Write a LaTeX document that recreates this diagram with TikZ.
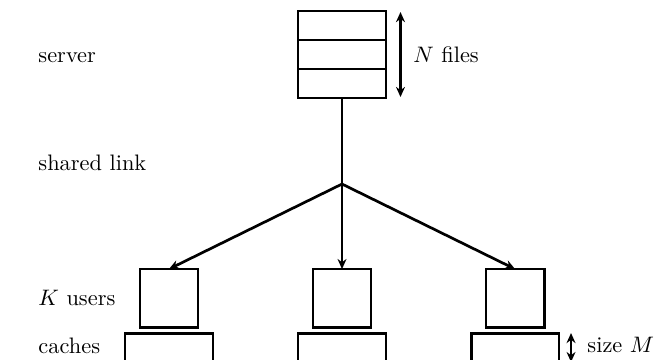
\documentclass[tikz,border=0pt]{standalone}
\usepackage{tikz}
\usetikzlibrary{arrows.meta}

\tikzset{
	filebox/.style={draw, line width=1.3pt, minimum width=1.381cm, minimum height=0.455cm, inner sep=0pt, outer sep=0pt},
	userbox/.style={draw, line width=1.3pt, minimum width=0.911cm, minimum height=0.911cm, inner sep=0pt, outer sep=0pt},
	cachebox/.style={filebox},
	lbl/.style={anchor=base west, inner sep=0pt}
}

\begin{document}
\begin{tikzpicture}[>={Stealth[length=4.5pt, width=4pt]}]
	\useasboundingbox (0,0) rectangle (10.455,5.636);
	\clip (0,0) rectangle (10.455,5.636);

	% server with N files
	\node[filebox] (f1) at (5.369,5.236) {};
	\node[filebox] (f2) at (5.369,4.780) {};
	\node[filebox] (f3) at (5.369,4.325) {};
	\coordinate (ntop) at (6.287,5.447);
	\coordinate (nbot) at (6.287,4.113);
	\draw[<->, line width=1.2pt] (ntop) -- (nbot);
	\node[lbl] (nlab) at (6.484,4.662) {$N$ files};

	% shared link
	\coordinate (j) at (5.369,2.747);
	\draw[line width=1.2pt] (f3.south) -- (j);

	% users and caches
	\node[userbox] (u1) at (2.653,0.957) {};
	\node[userbox] (u2) at (5.369,0.957) {};
	\node[userbox] (u3) at (8.085,0.957) {};
	\node[cachebox] (c1) at (2.653,0.180) {};
	\node[cachebox] (c2) at (5.369,0.180) {};
	\node[cachebox] (c3) at (8.085,0.180) {};
	\draw[->, line width=1.2pt] (j) -- (u1.north);
	\draw[->, line width=1.2pt] (j) -- (u2.north);
	\draw[->, line width=1.2pt] (j) -- (u3.north);

	\coordinate (mtop) at (8.964,0.408);
	\coordinate (mbot) at (8.964,-0.047);
	\draw[<->, line width=1.2pt] (mtop) -- (mbot);
	\node[lbl] (mlab) at (9.215,0.110) {size $M$};

	% row labels
	\node[lbl] (server) at (0.597,4.662) {server};
	\node[lbl] (link) at (0.597,2.967) {shared link};
	\node[lbl] (users) at (0.597,0.848) {$K$ users};
	\node[lbl] (caches) at (0.597,0.094) {caches};
\end{tikzpicture}
\end{document}
